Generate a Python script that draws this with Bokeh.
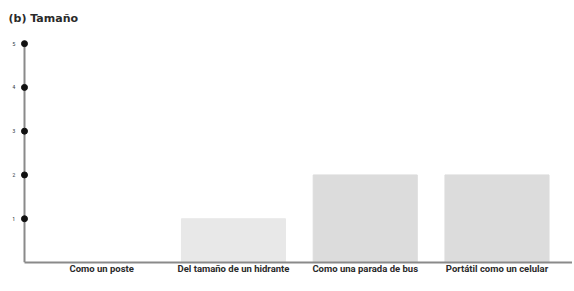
from bokeh.plotting import figure
from bokeh.embed import file_html
from bokeh.resources import INLINE
from bokeh.models import FixedTicker, ColumnDataSource, Range1d

categories = ["Como un poste", "Del tamaño de un hidrante", "Como una parada de bus", "Portátil como un celular"]
counts = [0, 1, 2, 2]
bar_colors = ["#e8e8e8", "#e8e8e8", "#dcdcdc", "#dcdcdc"]
y_ticks = [1, 2, 3, 4, 5]
title_text = "(b) Tamaño"

idx = list(range(len(categories)))
x_start, x_end = -0.677, 3.573
axis_x = -0.586

p = figure(width=572, height=289, output_backend="svg", toolbar_location=None,
           x_range=Range1d(x_start, x_end), y_range=Range1d(0, 5.3),
           min_border_left=12, min_border_right=0, min_border_bottom=27, min_border_top=30)
p.title.text = title_text
p.title.text_font = "DejaVu Sans"
p.title.text_font_size = "11px"
p.title.text_font_style = "bold"
p.title.text_color = "#2a2a2a"
p.title.offset = -4
p.title.standoff = 12
p.title.text_line_height = 0.8

src = ColumnDataSource(dict(x=idx, top=counts, color=bar_colors))
p.vbar(x="x", top="top", width=0.79, color="color", source=src)

p.scatter(x=[axis_x] * len(y_ticks), y=y_ticks, size=6, color="#111111", level="overlay")

p.grid.visible = False
p.outline_line_color = None

xa = p.xaxis[0]
xa.ticker = FixedTicker(ticks=idx)
xa.bounds = (axis_x, x_end)
xa.major_label_overrides = {i: c for i, c in zip(idx, categories)}
xa.major_tick_line_color = None
xa.major_tick_out = 0
xa.major_tick_in = 0
xa.minor_tick_line_color = None
xa.axis_line_color = "#8a8a8a"
xa.axis_line_width = 2
xa.major_label_text_font = "Roboto"
xa.major_label_text_font_style = "bold"
xa.major_label_text_font_size = "9.5px"
xa.major_label_text_color = "#2a2a2a"
xa.major_label_standoff = 0

ya = p.yaxis[0]
ya.fixed_location = axis_x
ya.ticker = FixedTicker(ticks=y_ticks)
ya.bounds = (0, 5)
ya.major_tick_line_color = None
ya.major_tick_out = 0
ya.major_tick_in = 0
ya.minor_tick_line_color = None
ya.axis_line_color = "#8a8a8a"
ya.axis_line_width = 2
ya.major_label_text_font = "Roboto"
ya.major_label_text_font_size = "6px"
ya.major_label_text_color = "#444444"
ya.major_label_standoff = 9

open("out.html", "w").write(file_html(p, INLINE))
